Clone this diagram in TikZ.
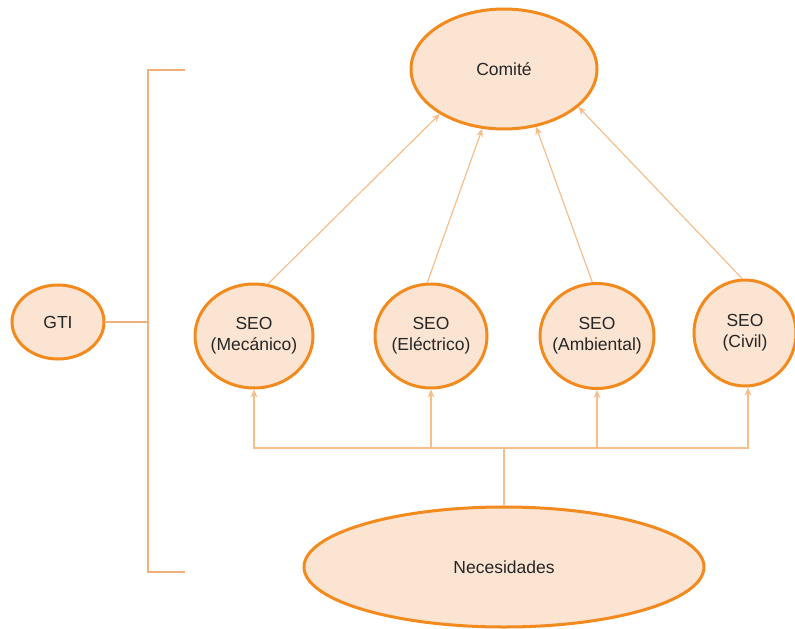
\documentclass[tikz,border=0pt]{standalone}
\usepackage{fontspec}
\setmainfont{Liberation Sans}
\usetikzlibrary{shapes.geometric,arrows.meta}
\definecolor{bord}{HTML}{F28A1E}
\definecolor{fil}{HTML}{FCE4D2}
\definecolor{lin}{HTML}{F5BE8C}
\definecolor{brk}{HTML}{F2B07A}
\tikzset{
  bub/.style={ellipse,draw=bord,fill=fil,line width=3pt,inner sep=-7pt,align=center,
    font=\fontsize{17.5}{21}\selectfont,text=black!85},
  conn/.style={draw=lin,line width=1.2pt},
  arr/.style={conn,-{Stealth[length=8pt,width=7pt,open,fill=lin]}}
}
\begin{document}
\begin{tikzpicture}[x=1pt,y=-1pt]
\useasboundingbox (0,0) rectangle (795,629);
\node[bub,minimum width=186pt,minimum height=120pt] (c) at (504,69) {Comité};
\node[bub,minimum width=92pt,minimum height=74pt] (g) at (58,322) {GTI};
\node[bub,minimum width=118pt,minimum height=104pt] (m) at (254,336) {SEO\\(Mecánico)};
\node[bub,minimum width=112pt,minimum height=104pt] (e) at (431,336) {SEO\\(Eléctrico)};
\node[bub,minimum width=114pt,minimum height=105pt] (a) at (597,336) {SEO\\(Ambiental)};
\node[bub,minimum width=102pt,minimum height=106pt] (v) at (745,333) {SEO\\(Civil)};
\node[bub,minimum width=400pt,minimum height=120pt] (n) at (504,567) {Necesidades};
% bracket
\coordinate (bt) at (185,70);
\coordinate (bb) at (185,572);
\coordinate (bm) at (148,322);
\draw[draw=brk,line width=2pt] (bt) -- (148,70) -- (148,572) -- (bb);
\draw[draw=brk,line width=2pt] (g.east) -- (bm);
% arrows to Comité
\draw[arr] (m.75) -- (c.215);
\draw[arr] (e.94) -- (c.250);
\draw[arr] (a.95) -- (c.299);
\draw[arr] (v.93) -- (c.333);
% from Necesidades
\coordinate (j) at (504,448);
\draw[conn] (n.north) -- (j);
\draw[arr] (j) -| (m.south);
\draw[arr] (j) -| (e.south);
\draw[arr] (j) -| (a.south);
\draw[arr] (j) -| ([xshift=3pt]v.south);
\end{tikzpicture}
\end{document}
